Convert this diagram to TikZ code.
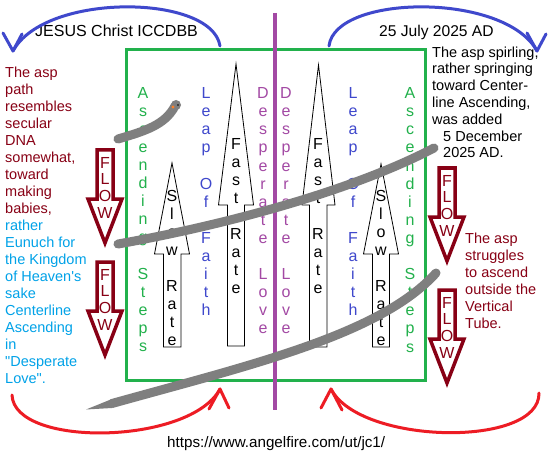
\documentclass[tikz,border=0pt]{standalone}
\usepackage{fontspec}
\setmainfont{Liberation Sans}
\definecolor{pindigo}{HTML}{3F48CC}
\definecolor{pred}{HTML}{ED1C24}
\definecolor{pgreen}{HTML}{22B14C}
\definecolor{pdark}{HTML}{880015}
\definecolor{ppurple}{HTML}{A349A4}
\definecolor{pgray}{HTML}{7F7F7F}
\definecolor{porange}{HTML}{FF7F27}
\definecolor{pcyan}{HTML}{00A2E8}
\begin{document}
\begin{tikzpicture}[x=1pt,y=-1pt,
  vt/.style={font=\fontsize{16}{18.1}\selectfont, align=center, inner sep=0, anchor=north},
  flowtxt/.style={font=\fontsize{16}{16.7}\selectfont, align=center, inner sep=0, anchor=north, text=pdark},
  para/.style={font=\fontsize{14.5}{17}\selectfont, align=left, inner sep=0, anchor=north west},
  paraB/.style={font=\fontsize{14.5}{16.8}\selectfont, align=left, inner sep=0, anchor=north west},
  flowbox/.style={draw=pdark, line width=3.5, fill=white, line join=miter},
  uparr/.style={draw=black, line width=0.8, fill=white},
  snake/.style={draw=pgray, line width=9, line cap=round},
  bluearc/.style={draw=pindigo, line width=3, line cap=round, line join=round},
  redarc/.style={draw=pred, line width=3, line cap=round, line join=round}]
\useasboundingbox (0,0) rectangle (548,457);
\fill[white] (0,0) rectangle (548,457);

% tube
\draw[pgreen, line width=3] (126,50) rectangle (425,380);
\draw[ppurple, line width=4] (275,13) -- (275,410);

% vertical words
\node[vt, text=pgreen] (asc1) at (143,85.3) {\strut A\\s\\c\\e\\n\\d\\i\\n\\g\\~\\S\\t\\e\\p\\s};
\node[vt, text=pgreen] (asc2) at (410,85.8) {\strut A\\s\\c\\e\\n\\d\\i\\n\\g\\~\\S\\t\\e\\p\\s};
\node[vt, text=pindigo] (leap1) at (206,85.8) {\strut L\\e\\a\\p\\~\\O\\f\\~\\F\\a\\i\\t\\h};
\node[vt, text=pindigo] (leap2) at (353,85.8) {\strut L\\e\\a\\p\\~\\O\\f\\~\\F\\a\\i\\t\\h};
\node[vt, text=ppurple] (desp1) at (263,85.8) {\strut D\\e\\s\\p\\e\\r\\a\\t\\e\\~\\L\\o\\v\\e};
\node[vt, text=ppurple] (desp2) at (286,85.8) {\strut D\\e\\s\\p\\e\\r\\a\\t\\e\\~\\L\\o\\v\\e};

% white up arrows
\draw[uparr] (236,64) -- (253.5,205) -- (244.5,205) -- (244.5,346) -- (227.5,346) -- (227.5,205) -- (218.5,205) -- cycle;
\draw[uparr] (318.5,65) -- (335,205) -- (327,205) -- (327,347) -- (309.5,347) -- (309.5,205) -- (302,205) -- cycle;
\draw[uparr] (172,163) -- (189.5,254) -- (181,254) -- (181,347) -- (163.5,347) -- (163.5,254) -- (154.5,254) -- cycle;
\draw[uparr] (381,164) -- (398.5,254) -- (389.5,254) -- (389.5,347) -- (372.5,347) -- (372.5,254) -- (363.5,254) -- cycle;
\node[vt] (fast1) at (236,136.3) {\strut F\\a\\s\\t\\~\\R\\a\\t\\e};
\node[vt] (fast2) at (318,136.3) {\strut F\\a\\s\\t\\~\\R\\a\\t\\e};
\node[vt] (slow1) at (172,188.3) {\strut S\\l\\o\\w\\~\\R\\a\\t\\e};
\node[vt] (slow2) at (381,188.3) {\strut S\\l\\o\\w\\~\\R\\a\\t\\e};

% FLOW arrows
\draw[flowbox] (97,150) -- (113,150) -- (113,199) -- (122,199) -- (105,243) -- (88,199) -- (97,199) -- cycle;
\draw[flowbox] (97,262) -- (113,262) -- (113,311) -- (122,311) -- (105,355) -- (88,311) -- (97,311) -- cycle;
\draw[flowbox] (439,168) -- (455,168) -- (455,217) -- (464,217) -- (447,261) -- (430,217) -- (439,217) -- cycle;
\draw[flowbox] (439,290) -- (455,290) -- (455,339) -- (464,339) -- (447,383) -- (430,339) -- (439,339) -- cycle;
\node[flowtxt] (flow1) at (105,156.3) {\strut F\\L\\O\\W};
\node[flowtxt] (flow2) at (105,268.3) {\strut F\\L\\O\\W};
\node[flowtxt] (flow3) at (447,174.3) {\strut F\\L\\O\\W};
\node[flowtxt] (flow4) at (447,296.3) {\strut F\\L\\O\\W};

% texts
\node[anchor=base west, inner sep=0, font=\fontsize{16}{18}\selectfont] (jesus) at (35,37) {JESUS Christ ICCDBB};
\node[anchor=base west, inner sep=0, font=\fontsize{15.6}{18}\selectfont] (date) at (379,37) {25 July 2025 AD};
\node[para, text=pdark] (ltxt1) at (5,65.4) {\strut The asp\\path\\resembles\\secular\\DNA\\somewhat,\\toward\\making\\babies,};
\node[para, text=pcyan] (ltxt2) at (5,218.4) {\strut rather\\Eunuch for\\the Kingdom\\of Heaven\textquotesingle s\\sake\\Centerline\\Ascending\\in\\\textquotedbl Desperate\\Love\textquotedbl .};
\node[paraB] (rtxt1) at (432,45.2) {\strut The asp spirling,\\rather springing\\toward Center-\\line Ascending,\\was added};
\node[paraB] (rtxt2) at (443,129.2) {\strut 5 December\\2025 AD.};
\node[para, text=pdark] (rtxt3) at (465,231.4) {\strut The asp\\struggles\\to ascend\\outside the\\Vertical\\Tube.};
\node[anchor=base west, inner sep=0, font=\fontsize{15.2}{18}\selectfont] (url) at (167,447) {https://www.angelfire.com/ut/jc1/};

% blue arcs
\coordinate (b1s) at (220,46); \coordinate (b1e) at (13,51);
\draw[bluearc] (b1s) .. controls (212,-6) and (45,-8) .. (b1e);
\draw[bluearc] (3,33) -- (b1e) -- (22,34);
\coordinate (b2s) at (329,46); \coordinate (b2e) at (537,51);
\draw[bluearc] (b2s) .. controls (335,-6) and (505,-8) .. (b2e);
\draw[bluearc] (527,33) -- (b2e) -- (546,34);

% red arcs
\coordinate (r1s) at (12,395); \coordinate (r1e) at (220,389);
\draw[redarc] (r1s) .. controls (14,448) and (190,445) .. (r1e);
\draw[redarc] (209,409) -- (r1e) -- (229,408);
\coordinate (r2s) at (539,393); \coordinate (r2e) at (331,389);
\draw[redarc] (r2s) .. controls (540,448) and (360,445) .. (r2e);
\draw[redarc] (321,408) -- (r2e) -- (342,410);

% the asp
\coordinate (s1a) at (118,139); \coordinate (s1b) at (175,106);
\draw[snake] (s1a) .. controls (145,131) and (165,125) .. (s1b);
\fill[pgray] (176,105) circle (5);
\fill[porange] (173,107) circle (1.6);
\fill[black] (178,105) circle (0.8);
\coordinate (s2a) at (118,244); \coordinate (s2b) at (434,148);
\draw[snake] (s2a) .. controls (220,226) and (350,192) .. (s2b);
\coordinate (s3a) at (112,403.5); \coordinate (s3b) at (436,273);
\draw[snake] (s3a) .. controls (250,365) and (380,335) .. (s3b);
\fill[pgray] (86,409.5) -- (112,399) -- (112,408) -- cycle;
\end{tikzpicture}
\end{document}
